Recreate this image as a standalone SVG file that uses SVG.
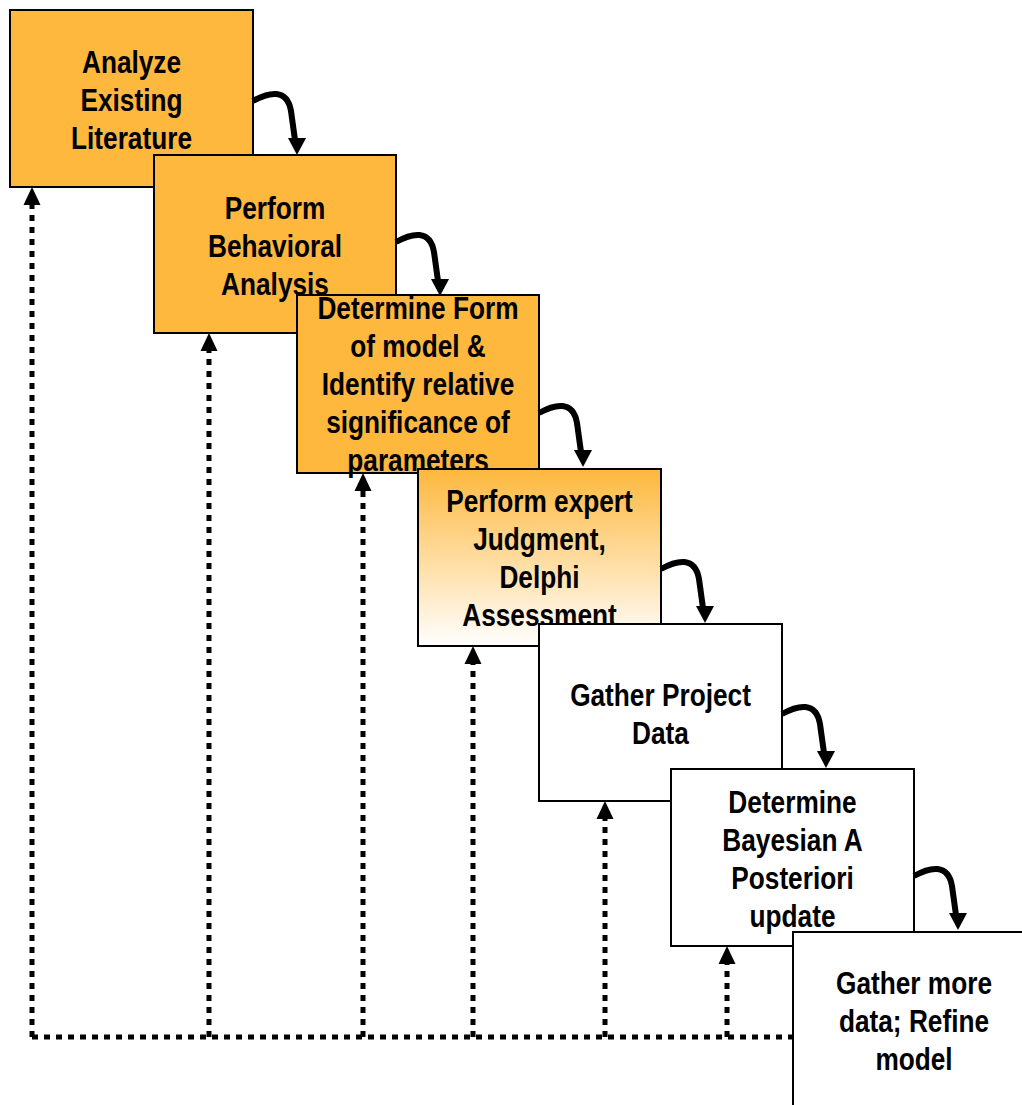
<svg xmlns="http://www.w3.org/2000/svg" xmlns:xlink="http://www.w3.org/1999/xlink" width="1022" height="1105" viewBox="0 0 1022 1105">
<style>
.box{stroke:#000;stroke-width:2}
.or{fill:#FDB83D}
.wh{fill:#fff}
.t{font-family:"Liberation Sans","Arial",sans-serif;font-weight:bold;font-size:32px;fill:#000;text-anchor:middle}
.dot{fill:none;stroke:#000;stroke-width:5;stroke-dasharray:6 6}
.cv{fill:none;stroke:#000;stroke-width:6}
</style>
<defs>
<linearGradient id="gr" x1="0" y1="0" x2="0" y2="1">
<stop offset="0" stop-color="#FDB83D"/>
<stop offset="1" stop-color="#FFFFFF"/>
</linearGradient>
<g id="curve">
<path class="cv" d="M0,0 C16,-9 34,-13 38,10 L42,39"/>
<polygon points="35,37 53,37 44,54" fill="#000"/>
</g>
<polygon id="uph" points="0,0 -8.5,18 8.5,18" fill="#000"/>
</defs>
<g id="n1">
<rect class="box or" x="10" y="10" width="243" height="177"/>
<g transform="translate(131.5 0) scale(0.82 1)">
<text class="t" x="0" y="73">Analyze</text>
<text class="t" x="0" y="111">Existing</text>
<text class="t" x="0" y="149">Literature</text>
</g>
</g>
<g id="n2">
<rect class="box or" x="154" y="155" width="242" height="178"/>
<g transform="translate(275 0) scale(0.82 1)">
<text class="t" x="0" y="219">Perform</text>
<text class="t" x="0" y="257">Behavioral</text>
<text class="t" x="0" y="295">Analysis</text>
</g>
</g>
<g id="n3">
<rect class="box or" x="297" y="295" width="242" height="178"/>
<g transform="translate(418 0) scale(0.82 1)">
<text class="t" x="0" y="319">Determine Form</text>
<text class="t" x="0" y="357">of model &amp;</text>
<text class="t" x="0" y="395">Identify relative</text>
<text class="t" x="0" y="433">significance of</text>
<text class="t" x="0" y="471">parameters</text>
</g>
</g>
<g id="n4">
<rect class="box" fill="url(#gr)" x="418" y="469" width="243" height="177"/>
<g transform="translate(539.5 0) scale(0.82 1)">
<text class="t" x="0" y="512">Perform expert</text>
<text class="t" x="0" y="550">Judgment,</text>
<text class="t" x="0" y="588">Delphi</text>
<text class="t" x="0" y="626">Assessment</text>
</g>
</g>
<g id="n5">
<rect class="box wh" x="539" y="624" width="243" height="177"/>
<g transform="translate(660.5 0) scale(0.82 1)">
<text class="t" x="0" y="706">Gather Project</text>
<text class="t" x="0" y="744">Data</text>
</g>
</g>
<g id="n6">
<rect class="box wh" x="671" y="769" width="243" height="177"/>
<g transform="translate(792.5 0) scale(0.82 1)">
<text class="t" x="0" y="813">Determine</text>
<text class="t" x="0" y="851">Bayesian A</text>
<text class="t" x="0" y="889">Posteriori</text>
<text class="t" x="0" y="927">update</text>
</g>
</g>
<g id="n7">
<rect class="box wh" x="793" y="932" width="243" height="200"/>
<g transform="translate(914 0) scale(0.82 1)">
<text class="t" x="0" y="994">Gather more</text>
<text class="t" x="0" y="1032">data; Refine</text>
<text class="t" x="0" y="1070">model</text>
</g>
</g>
<g id="connectors">
<use xlink:href="#curve" x="253" y="101"/>
<use xlink:href="#curve" x="396" y="242"/>
<use xlink:href="#curve" x="539" y="413"/>
<use xlink:href="#curve" x="661" y="569"/>
<use xlink:href="#curve" x="782" y="714"/>
<use xlink:href="#curve" x="914" y="876"/>
<path class="dot" d="M32,1037 H793"/>
<path class="dot" d="M32,1037 V204"/>
<path class="dot" d="M209,1037 V350"/>
<path class="dot" d="M363,1037 V490"/>
<path class="dot" d="M473,1037 V663"/>
<path class="dot" d="M605,1037 V818"/>
<path class="dot" d="M727,1037 V963"/>
<use xlink:href="#uph" x="32" y="187"/>
<use xlink:href="#uph" x="209" y="333"/>
<use xlink:href="#uph" x="363" y="473"/>
<use xlink:href="#uph" x="473" y="646"/>
<use xlink:href="#uph" x="605" y="801"/>
<use xlink:href="#uph" x="727" y="946"/>
</g>
</svg>
